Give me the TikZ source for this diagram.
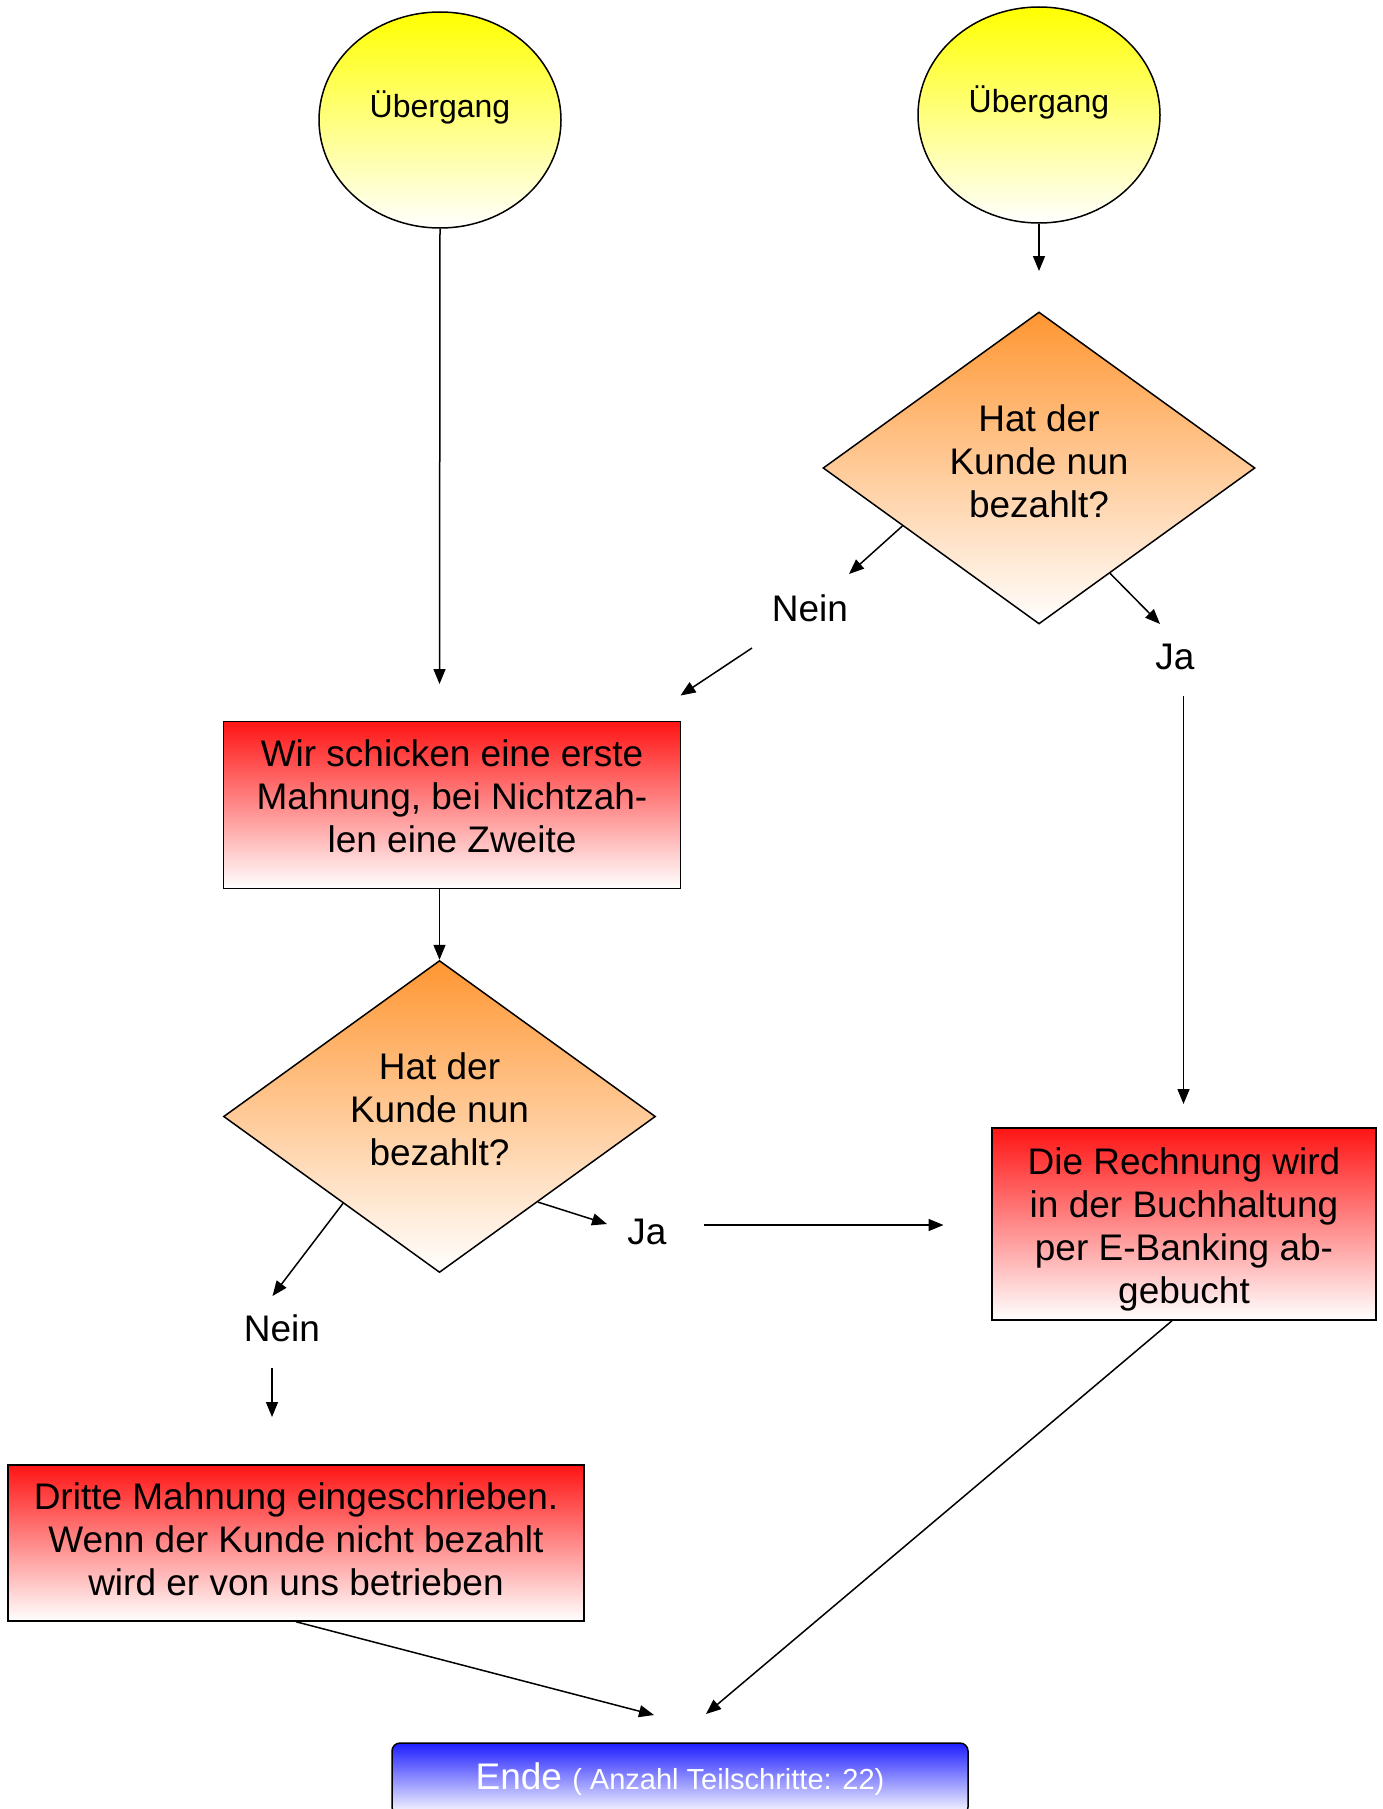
\documentclass[tikz,border=0pt]{standalone}
\usepackage{fontspec}
\setmainfont{Liberation Sans}
\usepackage{tikz}
\usetikzlibrary{shapes.geometric}
\usetikzlibrary{arrows.meta}
\definecolor{uebgelb}{RGB}{255,255,0}
\definecolor{rautorange}{RGB}{255,150,50}
\definecolor{boxrot}{RGB}{255,20,20}
\definecolor{endeblau}{RGB}{30,30,255}

\begin{document}
\begin{tikzpicture}[x = 1pt, y = -1pt, line width = 1.5pt,
  pfeil/.style = {-{Triangle[length = 15pt, width = 12pt]}},
  txt/.style = {font = \fontsize{37}{43}\selectfont, align = center, inner sep = 0},
  uebergang/.style = {draw, ellipse, minimum width = 242pt, minimum height = 216pt, top color = uebgelb, bottom color = white,
    label = {[font = \fontsize{32}{38}\selectfont, yshift = 13pt]center:Übergang}},
  frage/.style = {draw, diamond, inner sep = 0, minimum width = 432pt, minimum height = 312pt, top color = rautorange, bottom color = white,
    label = {[txt, yshift = 7pt]center:{Hat der\\Kunde nun\\bezahlt?}}},
  schritt/.style = {draw, rectangle, inner sep = 0, top color = boxrot, bottom color = white}]
 \useasboundingbox (0, 0) rectangle (1383, 1809);
  \node (ueb1) [uebergang] at (440, 120) {};
  \node (ueb2) [uebergang] at (1039, 115) {};
  \node (dia1) [frage] at (1039, 468) {};
  \node (nein1) [txt] at (810, 608) {Nein};
  \node (ja1) [txt] at (1175, 657) {Ja};
  \node (box1) [schritt, minimum width = 457pt, minimum height = 167pt,
    label = {[txt, yshift = 9pt]center:{Wir schicken eine erste\\Mahnung, bei Nichtzah-\\len eine Zweite}}] at (452, 805) {};
  \node (dia2) [frage] at (439.5, 1116.5) {};
  \node (nein2) [txt] at (282, 1328) {Nein};
  \node (ja2) [txt] at (647, 1232) {Ja};
  \node (box2) [schritt, minimum width = 384pt, minimum height = 192pt,
    label = {[txt, yshift = -5pt]center:{Die Rechnung wird\\in der Buchhaltung\\per E-Banking ab-\\gebucht}}] at (1184, 1224) {};
  \node (box3) [schritt, minimum width = 576pt, minimum height = 156pt,
    label = {[txt, yshift = 3.5pt]center:{Dritte Mahnung eingeschrieben.\\Wenn der Kunde nicht bezahlt\\wird er von uns betrieben}}] at (296, 1543) {};
  \node (ende) [draw, rounded corners = 8pt, minimum width = 576pt, minimum height = 72pt, inner sep = 0,
    top color = endeblau, bottom color = white, text = white] at (680, 1779)
    {\fontsize{37}{43}\selectfont Ende \fontsize{29}{34}\selectfont( Anzahl Teilschritte: 22)};

  \coordinate (e1) at (439.5, 684);
  \coordinate (e2) at (1039, 271);
  \coordinate (e3) at (849, 574);
  \coordinate (s4) at (752, 648);
  \coordinate (e4) at (680.5, 695.5);
  \coordinate (e5) at (1160, 624);
  \coordinate (s6) at (1183.5, 696);
  \coordinate (e6) at (1183.5, 1104);
  \coordinate (e8) at (272.5, 1296);
  \coordinate (s9) at (272, 1368);
  \coordinate (e9) at (272, 1417);
  \coordinate (e10) at (607, 1224);
  \coordinate (s11) at (703.5, 1225);
  \coordinate (e11) at (943.5, 1225);
  \coordinate (e12) at (654, 1715);
  \coordinate (e13) at (706, 1714);

  \draw [pfeil] (ueb1.south) -- (e1);
  \draw [pfeil] (ueb2.south) -- (e2);
  \draw [pfeil] (dia1.203) -- (e3);
  \draw [pfeil] (s4) -- (e4);
  \draw [pfeil] (dia1.304) -- (e5);
  \draw [pfeil] (s6) -- (e6);
  \draw [pfeil] (box1.south -| dia2.north) -- (dia2.north);
  \draw [pfeil] (dia2.222) -- (e8);
  \draw [pfeil] (s9) -- (e9);
  \draw [pfeil] (dia2.319) -- (e10);
  \draw [pfeil] (s11) -- (e11);
  \draw [pfeil] (box3.south) -- (e12);
  \draw [pfeil] ([xshift = -12pt]box2.south) -- (e13);
 \end{tikzpicture}
\end{document}
